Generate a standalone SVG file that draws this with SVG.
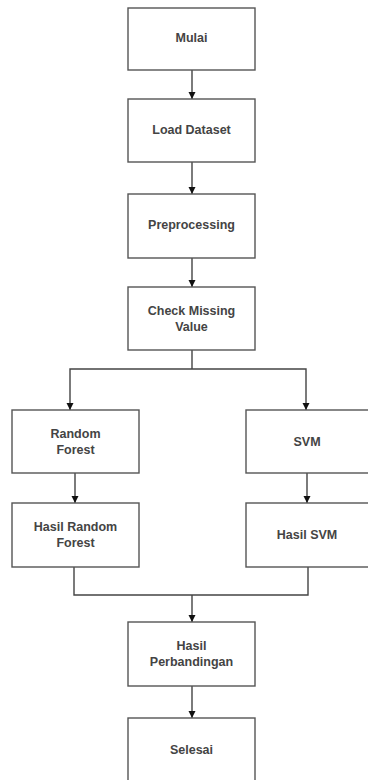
<svg xmlns="http://www.w3.org/2000/svg" width="368" height="780" viewBox="0 0 368 780">
<style>
.box{fill:#fff;stroke:#555;stroke-width:1.4}
.lbl{font-family:"Liberation Sans",Arial,sans-serif;font-size:12.5px;font-weight:bold;fill:#444;text-anchor:middle;dominant-baseline:central}
.ln{fill:none;stroke:#444;stroke-width:1.4}
</style>
<defs>
<marker id="ah" markerWidth="8" markerHeight="8" refX="7" refY="4" orient="auto" markerUnits="userSpaceOnUse">
<path d="M0,0.5 L7,4 L0,7.5 Z" fill="#111"/>
</marker>
</defs>
<rect width="368" height="780" fill="#fff"/>
<g id="connectors">
<line class="ln" x1="192" y1="70" x2="192" y2="99" marker-end="url(#ah)"/>
<line class="ln" x1="192" y1="162" x2="192" y2="194" marker-end="url(#ah)"/>
<line class="ln" x1="192" y1="258" x2="192" y2="287" marker-end="url(#ah)"/>
<polyline class="ln" points="192,350 192,369"/>
<polyline class="ln" points="192,369 70,369 70,410" marker-end="url(#ah)"/>
<polyline class="ln" points="192,369 306,369 306,410" marker-end="url(#ah)"/>
<line class="ln" x1="75" y1="473" x2="75" y2="503" marker-end="url(#ah)"/>
<line class="ln" x1="307" y1="473" x2="307" y2="503" marker-end="url(#ah)"/>
<polyline class="ln" points="74,567 74,595 308,595 308,567"/>
<line class="ln" x1="192" y1="595" x2="192" y2="622" marker-end="url(#ah)"/>
<line class="ln" x1="192" y1="686" x2="192" y2="718" marker-end="url(#ah)"/>
</g>
<g id="mulai"><rect class="box" x="128" y="8" width="127" height="62"/><text class="lbl" x="191.5" y="38">Mulai</text></g>
<g id="load"><rect class="box" x="128" y="99" width="127" height="63"/><text class="lbl" x="191.5" y="129.5">Load Dataset</text></g>
<g id="prep"><rect class="box" x="128" y="194" width="127" height="64"/><text class="lbl" x="191.5" y="225">Preprocessing</text></g>
<g id="check"><rect class="box" x="128" y="287" width="127" height="63"/><text class="lbl" x="191.5" y="311">Check Missing</text><text class="lbl" x="191.5" y="326.5">Value</text></g>
<g id="rf"><rect class="box" x="12" y="410" width="127" height="63"/><text class="lbl" x="75.5" y="433.5">Random</text><text class="lbl" x="75.5" y="449.5">Forest</text></g>
<g id="svm"><rect class="box" x="246" y="410" width="127" height="63"/><text class="lbl" x="307" y="441.5">SVM</text></g>
<g id="hrf"><rect class="box" x="12" y="503" width="127" height="64"/><text class="lbl" x="75.5" y="526.5">Hasil Random</text><text class="lbl" x="75.5" y="542.5">Forest</text></g>
<g id="hsvm"><rect class="box" x="246" y="503" width="127" height="64"/><text class="lbl" x="307" y="534.5">Hasil SVM</text></g>
<g id="hp"><rect class="box" x="128" y="622" width="127" height="64"/><text class="lbl" x="191.5" y="646">Hasil</text><text class="lbl" x="191.5" y="662">Perbandingan</text></g>
<g id="selesai"><rect class="box" x="128" y="718" width="127" height="70"/><text class="lbl" x="191.5" y="749.5">Selesai</text></g>
</svg>
